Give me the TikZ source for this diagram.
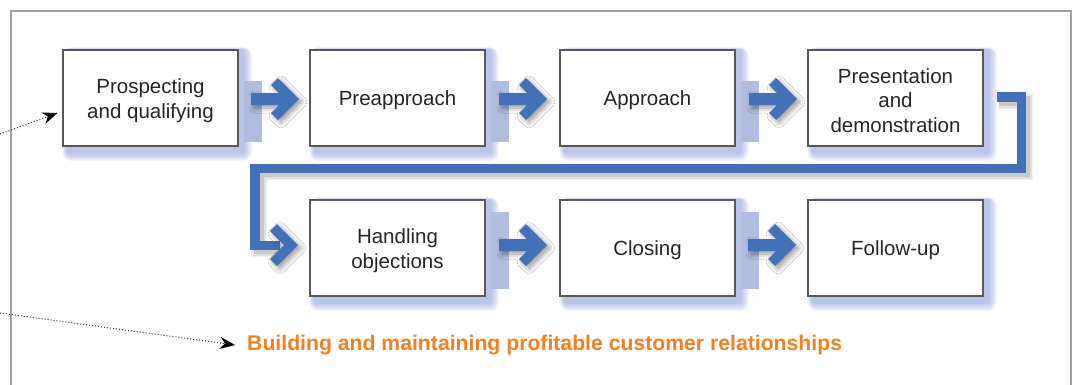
\documentclass[tikz,border=0pt]{standalone}
\usepackage{fontspec}
\setmainfont{Liberation Sans}
\usetikzlibrary{shadows.blur,arrows.meta}
\definecolor{arrowblue}{HTML}{4470B8}
\definecolor{barblue}{HTML}{B0BCE0}
\definecolor{glow}{HTML}{8F9EDC}
\definecolor{orangetxt}{HTML}{F47F20}
\definecolor{frame}{HTML}{A0A0A8}
\tikzset{
  stepbox/.style={draw=black!65, line width=1.1pt, fill=white, minimum width=175pt, minimum height=96pt},
  boxtext/.style={align=center, font=\fontsize{20.5}{24.5}\selectfont, text=black!85, yshift=-2.5pt},
  fatarrow/.style={fill=arrowblue, blur shadow={shadow blur steps=8, shadow xshift=3pt, shadow yshift=-3pt, shadow opacity=40, shadow blur radius=5pt}},
  dotarrow/.style={dotted, line width=1pt, black!80, -{Stealth[length=15pt,width=12pt,black]}},
  glowstep/.style={fill=glow, opacity=0.09}
}
\begin{document}
\begin{tikzpicture}[x=1pt,y=-1pt]
\useasboundingbox (0,0) rectangle (1073,384);
\fill[white] (0,0) rectangle (1073,384);
\draw[frame, line width=1.2pt] (11,395) -- (11,11) -- (1071,11) -- (1071,395);
% glow behind boxes (box centres)
\foreach \cx/\cy in {150.5/98, 397.5/98, 647.5/98, 895.5/98, 397.5/248, 647.5/248, 895.5/248} {
  \foreach \k in {1,2,...,9} {
    \fill[glowstep, rounded corners=\k pt] (\cx-87.5+5-\k*0.6, \cy-48-\k*0.3) rectangle (\cx+87.5+5+\k, \cy+48+6+\k);
  }
}
% connector shadow
\foreach \w/\o in {16/0.05, 13/0.07, 10/0.10} {
  \draw[black, opacity=\o, line width=\w pt, line join=miter]
    (999,101) -- (1025,101) -- (1025,172) -- (259,172) -- (259,249) -- (282,249);
}
% bars
\foreach \x in {244,491,741} {\fill[barblue] (\x,81) rectangle ++(18,61);}
\foreach \x in {491,741} {\fill[barblue] (\x,212) rectangle ++(18,77);}
% straight fat arrows (tip positions)
\foreach \tx/\ty in {299/99, 547/99, 797/99, 547/245, 796/245} {
  \fill[fatarrow] (\tx,\ty) -- ++(-21,-21) -- ++(-7,7) -- ++(8,8) -- ++(-28,0) -- ++(0,12) -- ++(28,0) -- ++(-8,8) -- ++(7,7) -- cycle;
}
% boxes
\node[stepbox, label={[boxtext]center:{Prospecting\\and qualifying}}] (b1) at (150.5,98) {};
\node[stepbox, label={[boxtext]center:{Preapproach}}] (b2) at (397.5,98) {};
\node[stepbox, label={[boxtext]center:{Approach}}] (b3) at (647.5,98) {};
\node[stepbox, label={[boxtext]center:{Presentation\\and\\demonstration}}] (b4) at (895.5,98) {};
\node[stepbox, label={[boxtext]center:{Handling\\objections}}] (b5) at (397.5,248) {};
\node[stepbox, label={[boxtext]center:{Closing}}] (b6) at (647.5,248) {};
\node[stepbox, label={[boxtext]center:{Follow-up}}] (b7) at (895.5,248) {};
% bent connector from b4 to b5
\draw[arrowblue, line width=9.5pt, line join=miter]
  ([xshift=13pt]b4.east |- 0,97) -- (1021.5,97) -- (1021.5,168.5) -- (255,168.5) -- (255,245.5) -- (280,245.5);
\fill[fatarrow] (298,245) -- ++(-21,-21) -- ++(-7,7) -- ++(14,14) -- ++(-14,14) -- ++(7,7) -- cycle;
% orange text
\node[font=\bfseries\fontsize{21.2}{25}\selectfont, text=orangetxt, anchor=west, inner sep=2pt] (rel) at (245,345) {Building and maintaining profitable customer relationships};
% dotted arrows
\coordinate (s1) at (0,134);
\coordinate (s2) at (0,313);
\draw[dotarrow] (s1) -- ([xshift=-5pt]b1.west |- 0,113);
\draw[dotarrow] (s2) -- ([xshift=-10pt]rel.west);
\end{tikzpicture}
\end{document}
